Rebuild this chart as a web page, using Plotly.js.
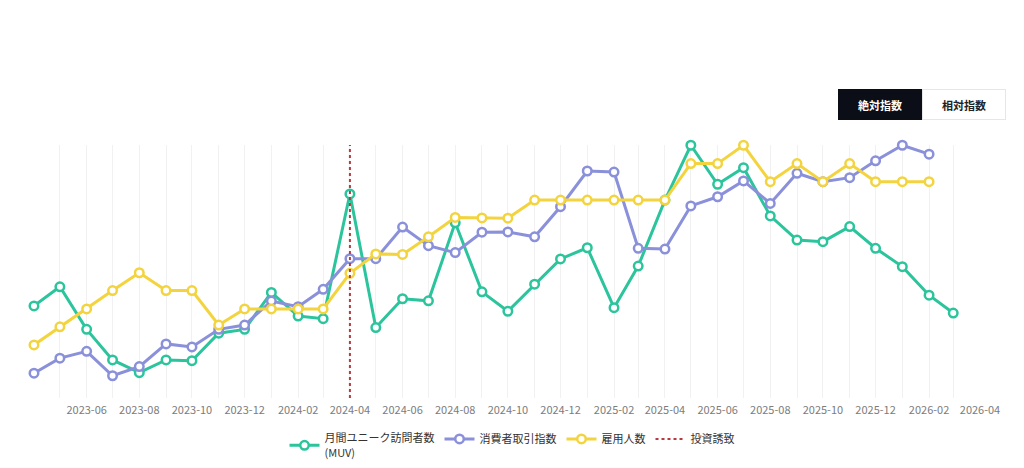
<!DOCTYPE html>
<html>
<head>
<meta charset="utf-8">
<script src="https://cdn.plot.ly/plotly-3.0.1.min.js"></script>
<style>
  html, body { margin: 0; padding: 0; background: #fff; }
  #chart { width: 1024px; height: 468px; }
</style>
</head>
<body>
<div id="chart"></div>
<script>
const months = [
  '2023-04-01', '2023-05-01', '2023-06-01', '2023-07-01', '2023-08-01', '2023-09-01',
  '2023-10-01', '2023-11-01', '2023-12-01', '2024-01-01', '2024-02-01', '2024-03-01',
  '2024-04-01', '2024-05-01', '2024-06-01', '2024-07-01', '2024-08-01', '2024-09-01',
  '2024-10-01', '2024-11-01', '2024-12-01', '2025-01-01', '2025-02-01', '2025-03-01',
  '2025-04-01', '2025-05-01', '2025-06-01', '2025-07-01', '2025-08-01', '2025-09-01',
  '2025-10-01', '2025-11-01', '2025-12-01', '2026-01-01', '2026-02-01', '2026-03-01'
];

// 月間ユニーク訪問者数 (MUV)
const muv = [
  36.9, 44.4, 27.7, 15.7, 10.7, 15.7, 15.4, 26.2, 27.7, 42.2, 32.9, 31.9,
  80.8, 28.4, 39.7, 38.9, 69.5, 42.4, 34.8, 45.4, 55.3, 59.7, 36.2, 52.5,
  78.4, 99.9, 84.6, 91.1, 72.2, 62.7, 62.1, 68.0, 59.5, 52.3, 41.1, 34.1
];

// 消費者取引指数
const consumer = [
  10.5, 16.4, 19.1, 9.5, 13.1, 22.0, 20.8, 27.7, 29.4, 38.8, 36.6, 43.4,
  55.4, 55.4, 67.8, 60.5, 57.8, 65.8, 65.9, 64.0, 75.8, 89.8, 89.4, 59.5,
  59.2, 76.1, 79.7, 85.9, 77.1, 88.9, 85.6, 87.2, 93.8, 99.9, 96.4
];

// 雇用人数
const employees = [
  21.6, 28.7, 35.7, 42.9, 49.9, 42.9, 42.9, 29.4, 35.7, 35.7, 35.7, 35.7,
  49.7, 57.3, 57.1, 64.0, 71.6, 71.4, 71.3, 78.4, 78.4, 78.4, 78.4, 78.4,
  78.4, 92.7, 92.7, 99.9, 85.6, 92.7, 85.6, 92.7, 85.6, 85.6, 85.6
];

// 投資誘致
const investDate = '2024-04-01';

const tickVals = [
  '2023-06-01', '2023-08-01', '2023-10-01', '2023-12-01', '2024-02-01', '2024-04-01',
  '2024-06-01', '2024-08-01', '2024-10-01', '2024-12-01', '2025-02-01', '2025-04-01',
  '2025-06-01', '2025-08-01', '2025-10-01', '2025-12-01', '2026-02-01', '2026-04-01'
];
const tickText = tickVals.map(d => d.slice(0, 7));

const green = '#2cc49c';
const blue = '#8a90da';
const yellow = '#f3d43f';

function series(name, x, y, color) {
  return {
    type: 'scatter',
    mode: 'lines+markers',
    name: name,
    x: x,
    y: y,
    cliponaxis: false,
    line: { color: color, width: 3 },
    marker: { symbol: 'circle', size: 8.5, color: '#ffffff', line: { color: color, width: 2.5 } },
    hoverinfo: 'x+y'
  };
}

const data = [
  series('月間ユニーク訪問者数<br>(MUV)', months, muv, green),
  series('消費者取引指数', months.slice(0, consumer.length), consumer, blue),
  series('雇用人数', months.slice(0, employees.length), employees, yellow)
];

const layout = {
  width: 1024,
  height: 468,
  margin: { l: 34, r: 44, t: 145, b: 70, autoexpand: false },
  paper_bgcolor: '#ffffff',
  plot_bgcolor: '#ffffff',
  font: { family: '"Noto Sans CJK JP", "Noto Sans", sans-serif', color: '#333' },
  showlegend: true,
  legend: {
    orientation: 'h',
    x: 0.5,
    xanchor: 'center',
    xref: 'container',
    y: 0.093,
    yanchor: 'top',
    yref: 'container',
    font: { size: 11, color: '#333' },
    itemwidth: 30,
    tracegroupgap: 0
  },
  xaxis: {
    type: 'date',
    range: ['2023-04-01', '2026-04-01'],
    tickvals: tickVals,
    ticktext: tickText,
    tickfont: { size: 11, color: '#7c7c7c' },
    showgrid: true,
    gridcolor: '#f1f1f1',
    gridwidth: 1,
    minor: { dtick: 'M1', tick0: '2023-04-01', showgrid: true, gridcolor: '#f1f1f1', gridwidth: 1 },
    zeroline: false,
    showline: false,
    ticks: '',
    ticklabelstandoff: 4,
    automargin: false,
    fixedrange: true
  },
  yaxis: {
    range: [0.78, 100],
    showgrid: false,
    zeroline: false,
    showline: false,
    showticklabels: false,
    ticks: '',
    fixedrange: true
  },
  shapes: [
    {
      type: 'line',
      xref: 'x',
      yref: 'paper',
      x0: investDate,
      x1: investDate,
      y0: 0,
      y1: 1,
      line: { color: '#b8393e', width: 2, dash: 'dot' },
      showlegend: true,
      name: '投資誘致',
      legendrank: 2000
    }
  ],
  annotations: [
    {
      xref: 'paper', yref: 'paper',
      x: 0.894, y: 1.16, xanchor: 'center', yanchor: 'middle',
      text: '<b>絶対指数</b>',
      showarrow: false,
      width: 82, height: 29,
      bgcolor: '#0b0d17',
      bordercolor: '#0b0d17',
      borderwidth: 1,
      borderpad: 0,
      font: { size: 11, color: '#ffffff' }
    },
    {
      xref: 'paper', yref: 'paper',
      x: 0.983, y: 1.16, xanchor: 'center', yanchor: 'middle',
      text: '<b>相対指数</b>',
      showarrow: false,
      width: 82, height: 29,
      bgcolor: '#ffffff',
      bordercolor: '#e6e6e6',
      borderwidth: 1,
      borderpad: 0,
      font: { size: 11, color: '#222' }
    }
  ]
};

Plotly.newPlot('chart', data, layout, { displayModeBar: false, responsive: false });
</script>
</body>
</html>
